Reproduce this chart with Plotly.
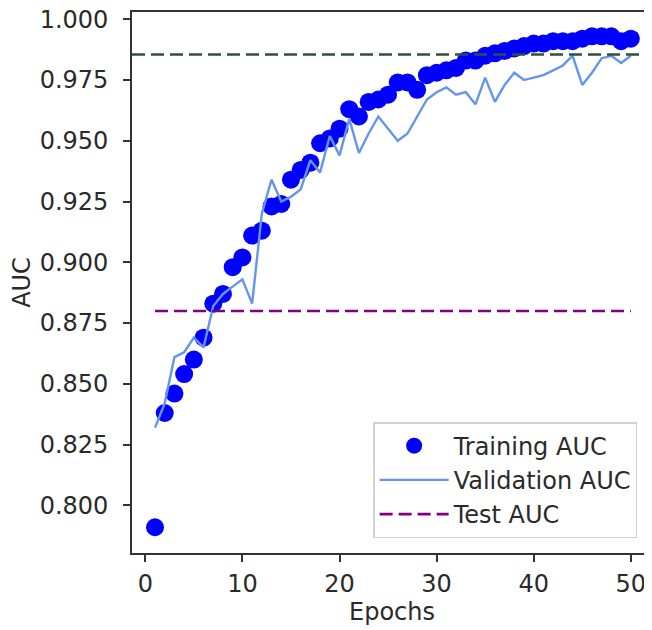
import plotly.graph_objects as go

epochs = list(range(1, 51))
training_auc = [0.791, 0.838, 0.846, 0.854, 0.860, 0.869, 0.883, 0.887, 0.898, 0.902,
                0.911, 0.913, 0.923, 0.924, 0.934, 0.938, 0.941, 0.949, 0.951, 0.955,
                0.963, 0.960, 0.966, 0.967, 0.969, 0.974, 0.974, 0.971, 0.977, 0.978,
                0.979, 0.980, 0.983, 0.983, 0.985, 0.986, 0.987, 0.988, 0.989, 0.990,
                0.990, 0.991, 0.991, 0.991, 0.992, 0.993, 0.993, 0.993, 0.991, 0.992]
validation_auc = [0.832, 0.842, 0.861, 0.863, 0.869, 0.865, 0.882, 0.887, 0.890, 0.893,
                  0.883, 0.920, 0.934, 0.925, 0.927, 0.930, 0.942, 0.937, 0.952, 0.944,
                  0.959, 0.945, 0.953, 0.960, 0.955, 0.950, 0.953, 0.960, 0.967, 0.970,
                  0.972, 0.969, 0.970, 0.965, 0.976, 0.966, 0.973, 0.978, 0.975, 0.976,
                  0.977, 0.979, 0.981, 0.985, 0.973, 0.978, 0.984, 0.985, 0.982, 0.985]
test_auc = 0.880
reference_auc = 0.9855
y_ticks = [0.800, 0.825, 0.850, 0.875, 0.900, 0.925, 0.950, 0.975, 1.000]
x_ticks = [0, 10, 20, 30, 40, 50]

FONT = "DejaVu Sans"
TXT = "#2a2a2a"
AX = "#333333"
FS = 24

fig = go.Figure()
fig.add_trace(go.Scatter(
    x=epochs, y=training_auc, mode="markers", name="Training AUC",
    marker=dict(color="#0000ff", size=18, line=dict(width=0)),
))
fig.add_trace(go.Scatter(
    x=epochs, y=validation_auc, mode="lines", name="Validation AUC",
    line=dict(color="#6495ed", width=2.4),
))
fig.add_trace(go.Scatter(
    x=[epochs[0], epochs[-1]], y=[test_auc, test_auc], mode="lines", name="Test AUC",
    line=dict(color="#800080", width=2.6, dash="13px,6px"),
))

fig.add_shape(type="line", xref="x domain", yref="y", x0=0, x1=1,
              y0=reference_auc, y1=reference_auc, layer="above",
              line=dict(color="#2f4f3f", width=2.6, dash="13px,6px"))

fig.update_layout(
    width=652, height=630,
    margin=dict(l=124, r=8, t=4, b=85, autoexpand=False),
    paper_bgcolor="white", plot_bgcolor="white",
    font=dict(family=FONT, size=FS, color=TXT),
    showlegend=True,
    legend=dict(
        x=0.972, y=0.027, xanchor="right", yanchor="bottom",
        bgcolor="rgba(255,255,255,0.9)", bordercolor="#d0d0d0", borderwidth=1.2,
        font=dict(family=FONT, size=FS, color=TXT),
        itemwidth=69, tracegroupgap=0,
    ),
    xaxis=dict(
        range=[-1.37, 52.18], tickvals=x_ticks, ticktext=[str(v) for v in x_ticks],
        showgrid=False, zeroline=False, automargin=False,
        showline=True, mirror=True, linecolor=AX, linewidth=1.6,
        ticks="outside", ticklen=7, tickwidth=1.6, tickcolor=AX,
        ticklabelstandoff=1, ticklabeloverflow="allow",
        tickfont=dict(family=FONT, size=FS, color=TXT),
        title=dict(text="Epochs", font=dict(family=FONT, size=FS, color=TXT), standoff=6),
    ),
    yaxis=dict(
        range=[0.7804, 1.003], tickvals=y_ticks, ticktext=[f"{v:.3f}" for v in y_ticks],
        showgrid=False, zeroline=False, automargin=False,
        showline=True, mirror=False, linecolor=AX, linewidth=1.6,
        ticks="outside", ticklen=7, tickwidth=1.6, tickcolor=AX,
        ticklabelstandoff=10, ticklabeloverflow="allow",
        tickfont=dict(family=FONT, size=FS, color=TXT),
        title=dict(text="AUC", font=dict(family=FONT, size=FS, color=TXT), standoff=16),
    ),
)

fig.write_html("out.html")
